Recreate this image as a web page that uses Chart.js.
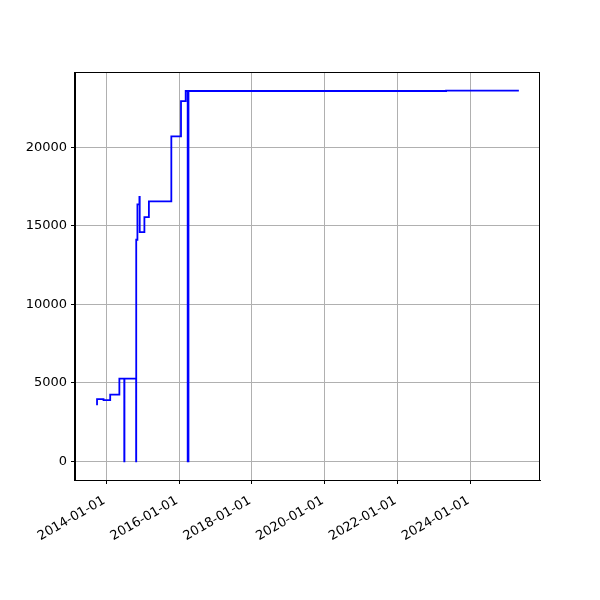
<!DOCTYPE html>
<html>
<head>
<meta charset="utf-8">
<script src="https://cdn.jsdelivr.net/npm/chart.js@4"></script>
<style>
  body { margin: 0; background: #fff; }
</style>
</head>
<body>
<canvas id="stepChart" width="600" height="600"></canvas>
<script>
// change dates and the value that holds from that date on
const dates = ['2013-09-22', '2013-10-01', '2013-12-05', '2014-02-10', '2014-05-13',
               '2014-07-01', '2014-07-03', '2014-10-28', '2014-10-29', '2014-11-10',
               '2014-11-30', '2014-12-03', '2015-01-19', '2015-03-05', '2015-10-16',
               '2016-01-21', '2016-03-08', '2016-03-28', '2016-04-05', '2023-05-02',
               '2025-05-01'];
const values = [3630, 3970, 3900, 4250, 5270,
                0, 5270, 0, 14120, 16370,
                16840, 14600, 15560, 16560, 20700,
                22950, 23590, 0, 23590, 23620,
                23620];
const xTickLabels = ['2014-01-01', '2016-01-01', '2018-01-01', '2020-01-01', '2022-01-01', '2024-01-01'];
const yTickValues = [0, 5000, 10000, 15000, 20000];

document.addEventListener('DOMContentLoaded', () => {
   Chart.defaults.font.family = "'DejaVu Sans', sans-serif";
   Chart.defaults.font.size = 13;
   Chart.defaults.color = '#000';

   const points = dates.map((d, i) => ({ x: Date.parse(d), y: values[i] }));

   // matplotlib style 5% margins
   const xs = points.map(p => p.x);
   const xLo = Math.min(...xs), xHi = Math.max(...xs);
   const xPad = (xHi - xLo) * 0.05;
   const yLo = Math.min(...values), yHi = Math.max(...values);
   const yPad = (yHi - yLo) * 0.05;

   const frame = {
      id: 'frame',
      afterDraw(chart) {
         const a = chart.chartArea;
         const c = chart.ctx;
         c.save();
         c.strokeStyle = '#000';
         c.lineWidth = 1;
         c.strokeRect(Math.round(a.left) - 0.5, Math.round(a.top) + 0.5,
                      Math.round(a.right - a.left), Math.round(a.bottom - a.top));
         c.restore();
      }
   };

   const ctx = document.getElementById('stepChart').getContext('2d');
   new Chart(ctx, {
      type: 'line',
      data: {
         datasets: [{
            data: points,
            stepped: 'before',
            borderColor: '#0000ff',
            borderWidth: 1.8,
            pointRadius: 0,
            fill: false
         }]
      },
      options: {
         responsive: false,
         animation: false,
         layout: { padding: { top: 72, right: 60, left: 0, bottom: 0 } },
         plugins: {
            legend: { display: false },
            tooltip: { enabled: false }
         },
         scales: {
            x: {
               type: 'linear',
               min: xLo - xPad,
               max: xHi + xPad,
               afterBuildTicks: (scale) => {
                  scale.ticks = xTickLabels.map(s => ({ value: Date.parse(s) }));
               },
               afterFit: (scale) => { scale.height = 120; },
               ticks: {
                  autoSkip: false,
                  maxRotation: 30,
                  minRotation: 30,
                  padding: 9,
                  labelOffset: -2,
                  callback: (v) => new Date(v).toISOString().slice(0, 10)
               },
               grid: { color: '#b0b0b0', lineWidth: 1, tickColor: '#000', tickLength: 4 },
               border: { color: '#000', width: 1 }
            },
            y: {
               min: yLo - yPad,
               max: yHi + yPad,
               afterBuildTicks: (scale) => {
                  scale.ticks = yTickValues.map(v => ({ value: v }));
               },
               afterFit: (scale) => { scale.width = 75; },
               ticks: {
                  padding: 4,
                  callback: (v) => String(v)
               },
               grid: { color: '#b0b0b0', lineWidth: 1, tickColor: '#000', tickLength: 4 },
               border: { color: '#000', width: 1 }
            }
         }
      },
      plugins: [frame]
   });
});
</script>
</body>
</html>
